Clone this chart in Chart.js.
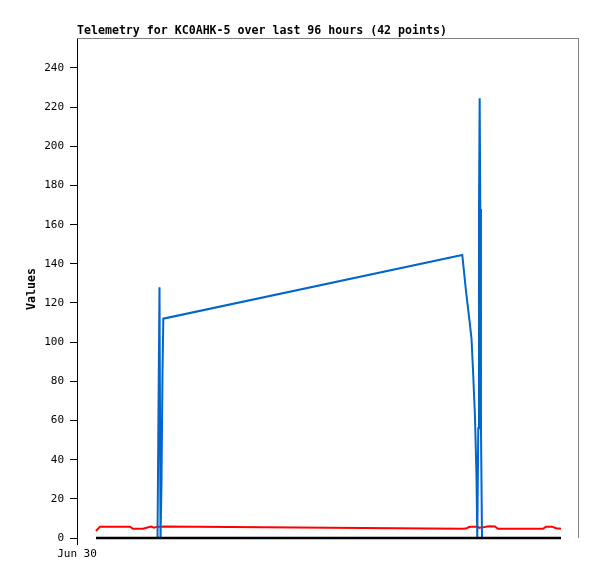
<!DOCTYPE html>
<html>
<head>
<meta charset="utf-8">
<script src="https://cdn.jsdelivr.net/npm/chart.js@4/dist/chart.umd.min.js"></script>
<style>
html,body{margin:0;padding:0;background:#fff;}
canvas{display:block;}
</style>
</head>
<body>
<canvas id="c" width="597" height="579"></canvas>
<script>
// hours since Jun 30 00:00
const hours = [3.92,4.75,6.81,10.94,11.56,13.63,15.28,15.90,16.62,16.82,17.03,17.24,17.44,17.65,17.82,
  79.54,80.31,80.93,81.44,81.75,82.16,82.47,82.64,82.84,82.99,83.13,83.26,83.40,83.61,
  84.64,85.26,86.29,86.91,88.15,89.39,92.49,94.14,96.20,96.82,98.06,98.89,99.92];
const blueValues = [0,0,0,0,0,0,0,0,0,64.5,128,0,28,84,112,
  144.5,126,113,102,86,62,32,0,56,168,224.5,168,56,0,
  0,0,0,0,0,0,0,0,0,0,0,0,0];
const redValues = [3.6,5.8,5.8,5.8,4.7,4.7,5.8,5.3,5.8,5.8,5.8,5.8,5.8,5.8,5.9,
  4.7,4.8,5.6,5.7,5.7,5.7,5.7,5.7,5.5,5.3,5.3,5.3,5.3,5.3,
  5.9,6.0,5.9,4.7,4.7,4.7,4.7,4.7,4.7,5.8,5.8,5.0,4.7];
const blackValues = [0,0,0,0,0,0,0,0,0,0,0,0,0,0,0,
  0,0,0,0,0,0,0,0,0,0,0,0,0,0,
  0,0,0,0,0,0,0,0,0,0,0,0,0];
const xTickLabels = ['Jun 30'];
const titleText = 'Telemetry for KC0AHK-5 over last 96 hours (42 points)';
const yAxisTitle = 'Values';

const toPts = vals => hours.map((h,i)=>({x:h,y:vals[i]}));

const decor = {
  id:'decor',
  afterDraw(chart){
    const {ctx, chartArea:a} = chart;
    ctx.save();
    ctx.strokeStyle = '#808080';
    ctx.lineWidth = 1;
    ctx.beginPath();
    ctx.moveTo(a.left, a.top+0.5); ctx.lineTo(a.right+0.5, a.top+0.5);
    ctx.moveTo(a.right+0.5, a.top); ctx.lineTo(a.right+0.5, a.bottom);
    ctx.stroke();
    ctx.fillStyle = '#000';
    ctx.font = 'bold 11.6px "DejaVu Sans Mono"';
    ctx.textAlign = 'left';
    ctx.textBaseline = 'middle';
    ctx.fillText(titleText, 77, 31);
    ctx.translate(32, 289);
    ctx.rotate(-Math.PI/2);
    ctx.textAlign = 'center';
    ctx.fillText(yAxisTitle, 0, 0);
    ctx.restore();
  }
};

new Chart(document.getElementById('c'), {
  type:'line',
  data:{
    datasets:[
      {data:toPts(blackValues), borderColor:'#000000', borderWidth:2.5, order:0, clip:false},
      {data:toPts(blueValues), borderColor:'#0066CC', borderWidth:2, order:1, clip:false},
      {data:toPts(redValues), borderColor:'#FF0000', borderWidth:2, order:2, clip:false}
    ]
  },
  options:{
    responsive:false,
    animation:false,
    devicePixelRatio:1,
    layout:{padding:{top:38,right:19,left:0,bottom:0}},
    elements:{point:{radius:0}, line:{tension:0}},
    plugins:{legend:{display:false}, title:{display:false}, tooltip:{enabled:false}},
    scales:{
      x:{
        type:'linear', min:0, max:103.43,
        afterBuildTicks(s){ s.ticks = [{value:0}]; },
        afterFit(s){ s.height = 41; },
        ticks:{
          callback:(v,i)=>xTickLabels[i],
          font:{family:'DejaVu Sans Mono', size:11},
          color:'#000', padding:3, maxRotation:0, autoSkip:false
        },
        grid:{drawOnChartArea:false, drawTicks:true, tickLength:7, color:'#000'},
        border:{display:false}
      },
      y:{
        min:0, max:255.3,
        afterFit(s){ s.width = 77; },
        ticks:{
          stepSize:20, includeBounds:false,
          font:{family:'DejaVu Sans Mono', size:11},
          color:'#000', padding:6
        },
        grid:{drawOnChartArea:false, drawTicks:true, tickLength:7, color:'#000'},
        border:{display:true, color:'#000', width:1}
      }
    }
  },
  plugins:[decor]
});
</script>
</body>
</html>
